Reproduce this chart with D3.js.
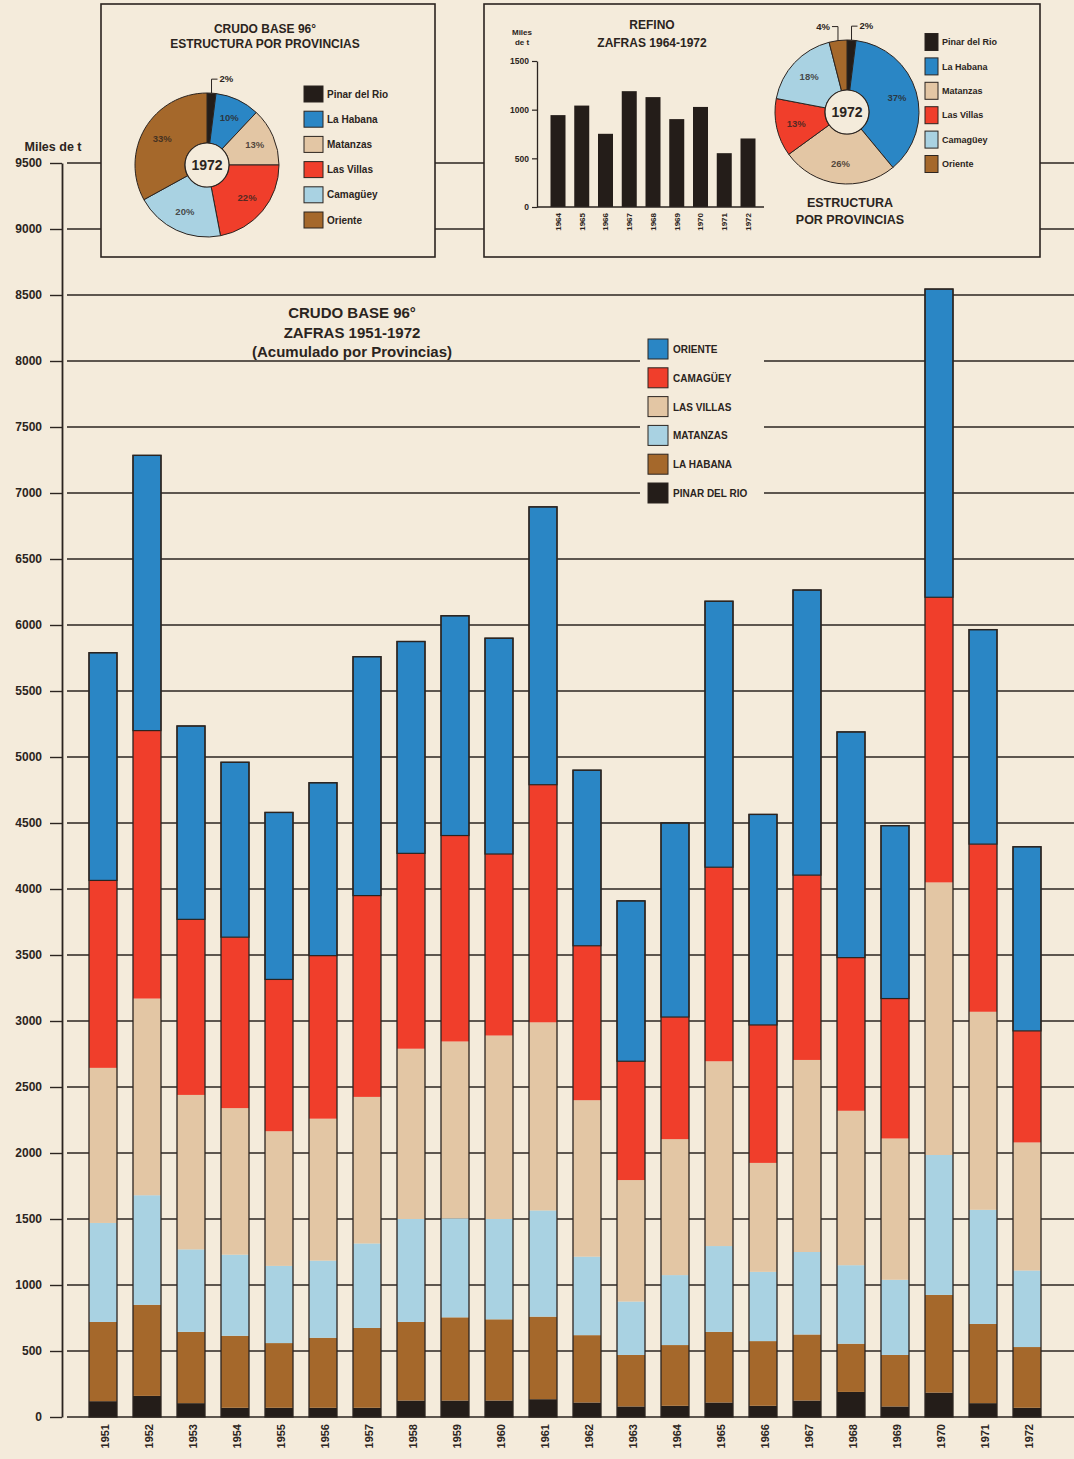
<!DOCTYPE html>
<html>
<head>
<meta charset="utf-8">
<script src="https://cdn.jsdelivr.net/npm/d3@7"></script>
<style>
    body { margin: 0; background: #f4ebdb; }
    svg { display: block; font-family: "Liberation Sans", Arial, sans-serif; font-weight: bold; }
</style>
</head>
<body>
<div id="chart"></div>
<script>
// Crudo base 96, miles de t, per province (stack order bottom -> top)
const years = ["1951", "1952", "1953", "1954", "1955", "1956", "1957", "1958", "1959", "1960", "1961",
    "1962", "1963", "1964", "1965", "1966", "1967", "1968", "1969", "1970", "1971", "1972"];
const pinarDelRio = [120, 160, 105, 70, 70, 70, 70, 125, 125, 125, 135, 110, 80, 85, 110, 85, 125, 190, 80, 185, 105, 70];
const laHabana = [600, 690, 540, 545, 490, 530, 605, 595, 630, 615, 625, 510, 390, 460, 535, 490, 500, 365, 390, 740, 600, 460];
const matanzas = [750, 830, 625, 615, 585, 585, 640, 780, 750, 760, 805, 595, 405, 530, 650, 525, 625, 595, 570, 1060, 865, 580];
const lasVillas = [1175, 1490, 1170, 1110, 1020, 1075, 1110, 1290, 1340, 1390, 1425, 1185, 920, 1030, 1400, 825, 1455, 1170, 1070, 2065, 1500, 970];
const camaguey = [1420, 2030, 1330, 1295, 1150, 1235, 1525, 1480, 1560, 1375, 1800, 1170, 900, 925, 1470, 1045, 1400, 1160, 1060, 2160, 1270, 845];
const oriente = [1725, 2085, 1465, 1325, 1265, 1310, 1810, 1605, 1665, 1635, 2105, 1330, 1215, 1470, 2015, 1595, 2160, 1710, 1310, 2335, 1625, 1395];
const yTicks = [0, 500, 1000, 1500, 2000, 2500, 3000, 3500, 4000, 4500, 5000, 5500, 6000, 6500, 7000, 7500, 8000, 8500, 9000, 9500];

const provinceKeys = ["pinar", "habana", "matanzas", "villas", "camaguey", "oriente"];
const legendLabels = ["PINAR DEL RIO", "LA HABANA", "MATANZAS", "LAS VILLAS", "CAMAGÜEY", "ORIENTE"];

// Refino 1964-1972
const refinoYears = ["1964", "1965", "1966", "1967", "1968", "1969", "1970", "1971", "1972"];
const refinoValues = [944, 1042, 752, 1190, 1129, 903, 1028, 553, 704];
const refinoTicks = [0, 500, 1000, 1500];

// estructura por provincias 1972 (%)
const pieLabels = ["Pinar del Rio", "La Habana", "Matanzas", "Las Villas", "Camagüey", "Oriente"];
const crudoShare1972 = [2, 10, 13, 22, 20, 33];
const refinoShare1972 = [2, 37, 26, 13, 18, 4];

const ink = "#2b2420";
const paper = "#f4ebdb";
const c = {black: "#241d19", blue: "#2a86c5", red: "#f03e2b", beige: "#e3c6a4", lightBlue: "#a9d2e2", brown: "#a5682b"};
const stackColors = [c.black, c.brown, c.lightBlue, c.beige, c.red, c.blue];
const pieColors = [c.black, c.blue, c.beige, c.red, c.lightBlue, c.brown];

let svg = d3.select("#chart")
    .append("svg")
    .attr("width", 1074)
    .attr("height", 1459);

svg.append("rect").attr("width", 1074).attr("height", 1459).attr("fill", paper);

// ---- main chart ----
let y = d3.scaleLinear().domain([0, 9500]).range([1417, 163]);
let x = d3.scalePoint().domain(years).range([103, 1027]);
let barW = 28;

svg.append("g")
    .selectAll("line")
    .data(yTicks)
    .join("line")
    .attr("x1", 67)
    .attr("x2", 1074)
    .attr("y1", d => y(d))
    .attr("y2", d => y(d))
    .attr("stroke", ink)
    .attr("stroke-width", 1.4);

let table = years.map(function (yr, i) {
    return {
        year: yr, pinar: pinarDelRio[i], habana: laHabana[i], matanzas: matanzas[i],
        villas: lasVillas[i], camaguey: camaguey[i], oriente: oriente[i]
    };
});
let series = d3.stack().keys(provinceKeys)(table);

let bars = svg.append("g");
series.forEach(function (layer, li) {
    bars.append("g")
        .selectAll("rect")
        .data(layer)
        .join("rect")
        .attr("x", d => x(d.data.year) - barW / 2)
        .attr("width", barW)
        .attr("y", d => y(d[1]))
        .attr("height", d => y(d[0]) - y(d[1]))
        .attr("fill", stackColors[li])
        .attr("stroke", li === 5 ? ink : "none")
        .attr("stroke-width", 1.2);
});
// bar outlines
bars.append("g")
    .selectAll("rect")
    .data(series[5])
    .join("rect")
    .attr("x", d => x(d.data.year) - barW / 2)
    .attr("width", barW)
    .attr("y", d => y(d[1]))
    .attr("height", d => y(0) - y(d[1]))
    .attr("fill", "none")
    .attr("stroke", ink)
    .attr("stroke-width", 1.3);

let yAxis = svg.append("g")
    .attr("transform", "translate(62,0)")
    .call(d3.axisLeft(y).tickValues(yTicks).tickFormat(d3.format("d")).tickSize(12).tickSizeOuter(0).tickPadding(8));
yAxis.select(".domain").attr("stroke", ink).attr("stroke-width", 1.8);
yAxis.selectAll(".tick line").attr("stroke", ink).attr("stroke-width", 1.4);
yAxis.selectAll(".tick text").attr("fill", ink).attr("font-size", 12).attr("font-family", "Liberation Sans, Arial").attr("font-weight", "bold");

svg.append("text")
    .attr("x", 53).attr("y", 151)
    .attr("text-anchor", "middle")
    .attr("font-size", 12.5)
    .attr("fill", ink)
    .text("Miles de t");

svg.append("g")
    .selectAll("text")
    .data(years)
    .join("text")
    .attr("transform", d => "translate(" + (x(d) + 2) + ",1424) rotate(-90)")
    .attr("dy", "0.35em")
    .attr("text-anchor", "end")
    .attr("font-size", 11)
    .attr("fill", ink)
    .text(d => d);

// title
let title = ["CRUDO BASE 96°", "ZAFRAS 1951-1972", "(Acumulado por Provincias)"];
svg.append("g")
    .selectAll("text")
    .data(title)
    .join("text")
    .attr("x", 352)
    .attr("y", (d, i) => 318 + i * 19.5)
    .attr("text-anchor", "middle")
    .attr("font-size", 15)
    .attr("fill", ink)
    .text(d => d);

// legend (top -> bottom: oriente ... pinar)
svg.append("rect").attr("x", 640).attr("y", 330).attr("width", 124).attr("height", 182).attr("fill", paper);
let legendItems = provinceKeys.map((k, i) => ({label: legendLabels[i], color: stackColors[i]})).reverse();
let legend = svg.append("g")
    .selectAll("g")
    .data(legendItems)
    .join("g")
    .attr("transform", (d, i) => "translate(648," + (339 + i * 28.8) + ")");
legend.append("rect")
    .attr("width", 20).attr("height", 20)
    .attr("fill", d => d.color)
    .attr("stroke", ink).attr("stroke-width", 1);
legend.append("text")
    .attr("x", 25).attr("y", 14)
    .attr("font-size", 10)
    .attr("fill", ink)
    .text(d => d.label);

// ---- donut helper ----
function drawDonut(g, cx, cy, values, leaders) {
    let pie = d3.pie().sort(null).value(d => d);
    let arcs = pie(values);
    let arc = d3.arc().innerRadius(22).outerRadius(72);
    let labelArc = d3.arc().innerRadius(32).outerRadius(72);
    let dg = g.append("g").attr("transform", "translate(" + cx + "," + cy + ")");
    dg.selectAll("path")
        .data(arcs)
        .join("path")
        .attr("d", arc)
        .attr("fill", (d, i) => pieColors[i])
        .attr("stroke", ink)
        .attr("stroke-width", 1);
    dg.append("circle").attr("r", 22).attr("fill", paper).attr("stroke", ink).attr("stroke-width", 1.2);
    dg.append("text")
        .attr("text-anchor", "middle").attr("dy", "0.36em")
        .attr("font-size", 14).attr("fill", ink)
        .text("1972");
    dg.selectAll("text.pct")
        .data(arcs.filter(d => d.value > 5))
        .join("text")
        .attr("class", "pct")
        .attr("transform", d => "translate(" + labelArc.centroid(d) + ")")
        .attr("text-anchor", "middle").attr("dy", "0.35em")
        .attr("font-size", 9.5).attr("fill", ink).attr("fill-opacity", 0.8)
        .text(d => d.value + "%");
    leaders.forEach(function (ld) {
        let a = arcs[ld.index];
        let ang = (a.startAngle + a.endAngle) / 2;
        let px = 72 * Math.sin(ang), py = -72 * Math.cos(ang);
        let ty = py - 14;
        dg.append("path")
            .attr("d", "M" + px + "," + py + "V" + ty + "h" + (ld.dir * 6))
            .attr("fill", "none").attr("stroke", ink).attr("stroke-width", 1);
        dg.append("text")
            .attr("x", px + ld.dir * 8).attr("y", ty).attr("dy", "0.35em")
            .attr("text-anchor", ld.dir > 0 ? "start" : "end")
            .attr("font-size", 9.5).attr("fill", ink)
            .text(a.value + "%");
    });
}

function drawPieLegend(g, x0, y0, step, sw, sh, fontSize) {
    let lg = g.append("g")
        .selectAll("g")
        .data(pieLabels)
        .join("g")
        .attr("transform", (d, i) => "translate(" + x0 + "," + (y0 + i * step) + ")");
    lg.append("rect")
        .attr("y", -sh / 2).attr("width", sw).attr("height", sh)
        .attr("fill", (d, i) => pieColors[i])
        .attr("stroke", ink).attr("stroke-width", 1);
    lg.append("text")
        .attr("x", sw + 4).attr("dy", "0.35em")
        .attr("font-size", fontSize).attr("fill", ink)
        .text(d => d);
}

// ---- left inset: crudo structure ----
let left = svg.append("g");
left.append("rect").attr("x", 101).attr("y", 4).attr("width", 334).attr("height", 253)
    .attr("fill", paper).attr("stroke", ink).attr("stroke-width", 1.6);
left.append("text").attr("x", 265).attr("y", 33).attr("text-anchor", "middle").attr("font-size", 12).attr("fill", ink).text("CRUDO BASE 96°");
left.append("text").attr("x", 265).attr("y", 48).attr("text-anchor", "middle").attr("font-size", 12).attr("fill", ink).text("ESTRUCTURA POR PROVINCIAS");
drawDonut(left, 207, 165, crudoShare1972, [{index: 0, dir: 1}]);
drawPieLegend(left, 304, 94, 25.2, 19, 16, 10);

// ---- right inset: refino ----
let right = svg.append("g");
right.append("rect").attr("x", 484).attr("y", 4).attr("width", 556).attr("height", 253)
    .attr("fill", paper).attr("stroke", ink).attr("stroke-width", 1.6);
right.append("text").attr("x", 652).attr("y", 29).attr("text-anchor", "middle").attr("font-size", 12).attr("fill", ink).text("REFINO");
right.append("text").attr("x", 652).attr("y", 47).attr("text-anchor", "middle").attr("font-size", 12).attr("fill", ink).text("ZAFRAS 1964-1972");
right.append("text").attr("x", 522).attr("y", 35).attr("text-anchor", "middle").attr("font-size", 8).attr("fill", ink).text("Miles");
right.append("text").attr("x", 522).attr("y", 45).attr("text-anchor", "middle").attr("font-size", 8).attr("fill", ink).text("de t");

let ry = d3.scaleLinear().domain([0, 1500]).range([207, 61]);
let rx = d3.scalePoint().domain(refinoYears).range([558, 748]);

right.append("g")
    .selectAll("rect")
    .data(refinoValues)
    .join("rect")
    .attr("x", (d, i) => rx(refinoYears[i]) - 7.5)
    .attr("width", 15)
    .attr("y", d => ry(d))
    .attr("height", d => ry(0) - ry(d))
    .attr("fill", c.black);

let rAxis = right.append("g")
    .attr("transform", "translate(537,0)")
    .call(d3.axisLeft(ry).tickValues(refinoTicks).tickFormat(d3.format("d")).tickSize(5).tickSizeOuter(0).tickPadding(3));
rAxis.select(".domain").attr("stroke", ink).attr("stroke-width", 1.3);
rAxis.selectAll(".tick line").attr("stroke", ink).attr("stroke-width", 1.2);
rAxis.selectAll(".tick text").attr("fill", ink).attr("font-size", 8.5).attr("font-family", "Liberation Sans, Arial").attr("font-weight", "bold");

right.append("line").attr("x1", 537).attr("x2", 764).attr("y1", ry(0)).attr("y2", ry(0))
    .attr("stroke", ink).attr("stroke-width", 1.3);

right.append("g")
    .selectAll("text")
    .data(refinoYears)
    .join("text")
    .attr("transform", d => "translate(" + rx(d) + ",213) rotate(-90)")
    .attr("dy", "0.35em")
    .attr("text-anchor", "end")
    .attr("font-size", 8)
    .attr("fill", ink)
    .text(d => d);

drawDonut(right, 847, 112, refinoShare1972, [{index: 0, dir: 1}, {index: 5, dir: -1}]);
drawPieLegend(right, 925, 42, 24.4, 13, 17, 9);
right.append("text").attr("x", 850).attr("y", 207).attr("text-anchor", "middle").attr("font-size", 12.5).attr("fill", ink).text("ESTRUCTURA");
right.append("text").attr("x", 850).attr("y", 224).attr("text-anchor", "middle").attr("font-size", 12.5).attr("fill", ink).text("POR PROVINCIAS");
</script>
</body>
</html>
